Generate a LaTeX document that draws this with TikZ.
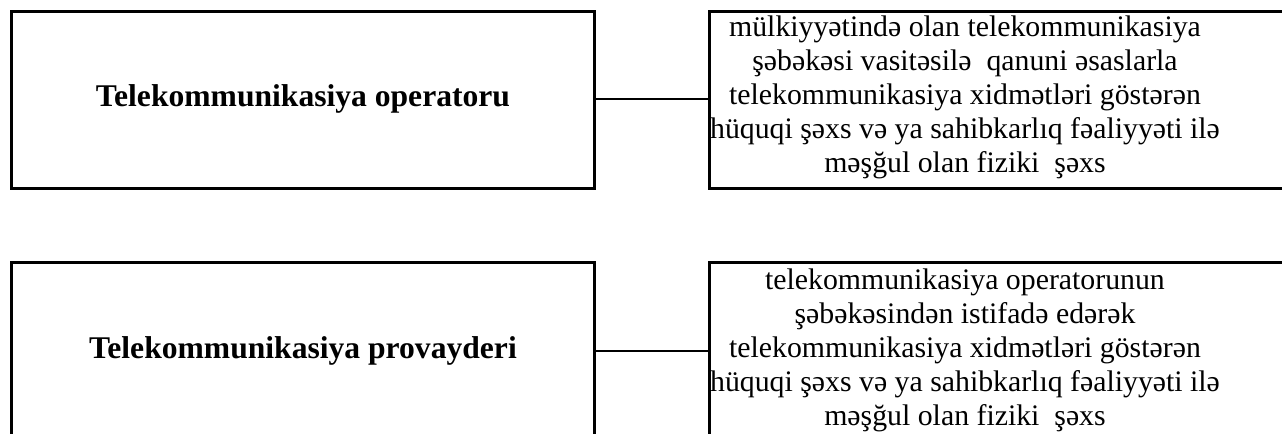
\documentclass[tikz,border=0pt]{standalone}
\usepackage{fontspec}
\setmainfont{Liberation Serif}
\begin{document}
\begin{tikzpicture}[x=0.5pt,y=-0.5pt,
  box/.style={draw, line width=1.5pt, inner sep=0pt, minimum width=#1},
  link/.style={draw, line width=1pt},
  lbl/.style={inner sep=0pt, font=\fontsize{15.8}{17}\selectfont\bfseries},
  desc/.style={inner sep=0pt, align=center, font=\fontsize{14.9}{17}\selectfont}]
\path[use as bounding box] (0,0) rectangle (1282,434);
\clip (0,0) rectangle (1282,434);
% boxes
\node[box=291.5pt, minimum height=88.5pt] (l1) at (302.5,99.5) {};
\node[box=305.5pt, minimum height=88.5pt] (r1) at (1014.5,99.5) {};
\node[box=291.5pt, minimum height=104pt] (l2) at (302.5,366) {};
\node[box=305.5pt, minimum height=104pt] (r2) at (1014.5,366) {};
% texts
\node[lbl] (lt1) at (303,99) {Telekommunikasiya operatoru};
\node[lbl] (lt2) at (303,351) {Telekommunikasiya provayderi};
\node[desc] (rt1) at (965,97) {mülkiyyətində olan telekommunikasiya\\
şəbəkəsi vasitəsilə\ \ qanuni əsaslarla\\
telekommunikasiya xidmətləri göstərən\\
hüquqi şəxs və ya sahibkarlıq fəaliyyəti ilə\\
məşğul olan fiziki\ \ şəxs};
\node[desc] (rt2) at (965,350) {telekommunikasiya operatorunun\\
şəbəkəsindən istifadə edərək\\
telekommunikasiya xidmətləri göstərən\\
hüquqi şəxs və ya sahibkarlıq fəaliyyəti ilə\\
məşğul olan fiziki\ \ şəxs};
% connectors
\path[link] (l1.east |- lt1) -- (r1.west |- lt1);
\path[link] (l2.east |- lt2) -- (r2.west |- lt2);
\end{tikzpicture}
\end{document}
